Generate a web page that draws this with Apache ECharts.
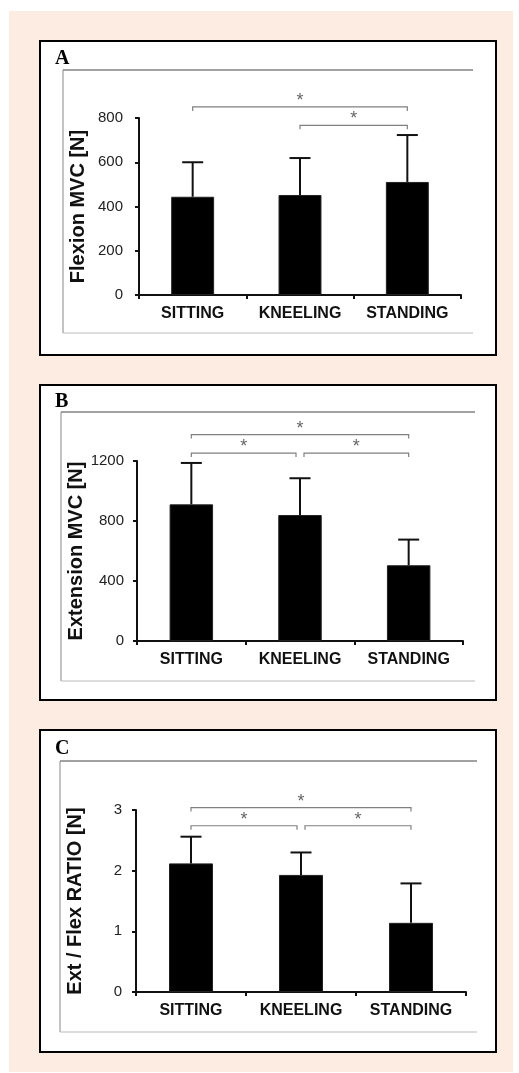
<!DOCTYPE html>
<html>
<head>
<meta charset="utf-8">
<script src="https://cdn.jsdelivr.net/npm/echarts@6/dist/echarts.min.js"></script>
<style>
html,body{margin:0;padding:0;background:#fff;}
#c{width:519px;height:1073px;}
</style>
</head>
<body>
<div id="c"></div>
<script>
// ---- data ----
const categories = ['SITTING', 'KNEELING', 'STANDING'];

const flexionMean = [444, 452, 511];
const flexionSD = [156, 167, 212];

const extensionMean = [911, 840, 505];
const extensionSD = [276, 245, 171];

const ratioMean = [2.12, 1.93, 1.14];
const ratioSD = [0.44, 0.37, 0.65];

// significance brackets: [fromCategory, toCategory, bracketLevel]
const flexionBrackets = [[0, 2, 850], [1, 2, 767]];
const extensionBrackets = [[0, 2, 1376], [0, 1, 1253], [1, 2, 1253]];
const ratioBrackets = [[0, 2, 3.04], [0, 1, 2.74], [1, 2, 2.74]];

const panelLetters = ['A', 'B', 'C'];
const yNames = ['Flexion MVC [N]', 'Extension MVC [N]', 'Ext / Flex RATIO [N]'];
const yMax = [800, 1200, 3];
const yInterval = [200, 400, 1];

// ---- chart ----
const chart = echarts.init(document.getElementById('c'), null, {renderer: 'canvas'});
const FONT = 'Liberation Sans, Arial, sans-serif';

const grids = [
  {left: 139, right: 58, top: 118, bottom: 778},
  {left: 137, right: 56, top: 461, bottom: 432},
  {left: 136, right: 53, top: 810, bottom: 81}
];
const nameGaps = [51, 51, 51];
const labelMargins = [16, 13, 14];

const panels = [
  {means: flexionMean, sds: flexionSD, brackets: flexionBrackets},
  {means: extensionMean, sds: extensionSD, brackets: extensionBrackets},
  {means: ratioMean, sds: ratioSD, brackets: ratioBrackets}
];

const xAxis = [], yAxis = [], series = [];
panels.forEach((p, i) => {
  xAxis.push({
    type: 'category', gridIndex: i, data: categories,
    axisLine: {lineStyle: {color: '#111', width: 2}},
    axisTick: {show: true, length: 4, lineStyle: {color: '#111', width: 2}},
    axisLabel: {color: '#111', fontFamily: FONT, fontWeight: 'bold', fontSize: 16, margin: 11,
      interval: 0, hideOverlap: false}
  });
  yAxis.push({
    type: 'value', gridIndex: i, min: 0, max: yMax[i], interval: yInterval[i],
    name: yNames[i], nameLocation: 'middle', nameRotate: 90, nameGap: nameGaps[i],
    nameMoveOverlap: false,
    nameTextStyle: {color: '#111', fontFamily: FONT, fontWeight: 'bold', fontSize: 20},
    splitLine: {show: false},
    axisLine: {show: true, lineStyle: {color: '#111', width: 2}},
    axisTick: {show: true, length: 4, lineStyle: {color: '#111', width: 2}},
    axisLabel: {color: '#222', fontFamily: FONT, fontSize: 15, margin: labelMargins[i],
      formatter: v => String(v)}
  });
  series.push({
    type: 'bar', xAxisIndex: i, yAxisIndex: i, data: p.means, barWidth: '40%',
    itemStyle: {color: '#000', borderColor: '#222', borderWidth: 1},
    silent: true, z: 2
  });
  series.push({
    type: 'custom', xAxisIndex: i, yAxisIndex: i, clip: false, silent: true, z: 3,
    data: p.means.map((m, k) => [k, m, p.sds[k]]),
    encode: {x: 0, y: 1},
    renderItem: function (params, api) {
      const k = api.value(0), m = api.value(1), sd = api.value(2);
      const base = api.coord([k, m]);
      const top = api.coord([k, m + sd]);
      const half = 10.5;
      const style = {stroke: '#111', lineWidth: 2};
      return {
        type: 'group', children: [
          {type: 'line', shape: {x1: base[0], y1: base[1], x2: top[0], y2: top[1]}, style: style},
          {type: 'line', shape: {x1: top[0] - half, y1: top[1], x2: top[0] + half, y2: top[1]}, style: style}
        ]
      };
    }
  });
  // bracket inset where two brackets share an endpoint at the same level
  const br = p.brackets.map(b => {
    let insetL = 0, insetR = 0;
    p.brackets.forEach(o => {
      if (o === b || o[2] !== b[2]) return;
      if (o[1] === b[0]) insetL = 4;
      if (o[0] === b[1]) insetR = 4;
    });
    return [b[0], b[1], b[2], insetL, insetR];
  });
  series.push({
    type: 'custom', xAxisIndex: i, yAxisIndex: i, clip: false, silent: true, z: 3,
    data: br,
    encode: {x: [0, 1], y: 2},
    renderItem: function (params, api) {
      const a = api.coord([api.value(0), api.value(2)]);
      const b = api.coord([api.value(1), api.value(2)]);
      const x1 = a[0] + api.value(3), x2 = b[0] - api.value(4), y = a[1];
      return {
        type: 'group', children: [
          {type: 'polyline', shape: {points: [[x1, y + 4], [x1, y], [x2, y], [x2, y + 4]]},
            style: {stroke: '#808080', lineWidth: 1.2, fill: null}},
          {type: 'text', style: {text: '*', x: (x1 + x2) / 2, y: y + 3, fill: '#666',
            font: '18px ' + FONT, textAlign: 'center', textVerticalAlign: 'bottom'}}
        ]
      };
    }
  });
});

// frame graphics
const frames = [
  {top: 41, bottom: 355, letterY: 59, box: {l: 63, t: 70, r: 473, b: 333}},
  {top: 385, bottom: 700, letterY: 402, box: {l: 61, t: 412, r: 475, b: 681}},
  {top: 730, bottom: 1052, letterY: 749, box: {l: 60, t: 761, r: 477, b: 1032}}
];
const graphic = [
  {type: 'rect', z: -10, shape: {x: 9, y: 11, width: 504, height: 1061}, style: {fill: '#fdece2'}}
];
frames.forEach((f, i) => {
  graphic.push({type: 'rect', z: -9, shape: {x: 40, y: f.top, width: 456, height: f.bottom - f.top},
    style: {fill: '#fff', stroke: '#000', lineWidth: 2}});
  graphic.push({type: 'line', z: -8, shape: {x1: f.box.l, y1: f.box.t, x2: f.box.r, y2: f.box.t},
    style: {stroke: '#444', lineWidth: 1}});
  graphic.push({type: 'line', z: -8, shape: {x1: f.box.l, y1: f.box.t, x2: f.box.l, y2: f.box.b},
    style: {stroke: '#888', lineWidth: 1}});
  graphic.push({type: 'line', z: -8, shape: {x1: f.box.l, y1: f.box.b, x2: f.box.r, y2: f.box.b},
    style: {stroke: '#bbb', lineWidth: 1}});
  graphic.push({type: 'text', z: -7, style: {text: panelLetters[i], x: 55, y: f.letterY,
    font: 'bold 20px Liberation Serif, Times New Roman, serif', fill: '#000', textVerticalAlign: 'middle'}});
});

chart.setOption({
  backgroundColor: '#fff',
  animation: false,
  grid: grids,
  xAxis: xAxis,
  yAxis: yAxis,
  series: series,
  graphic: graphic
});
</script>
</body>
</html>
